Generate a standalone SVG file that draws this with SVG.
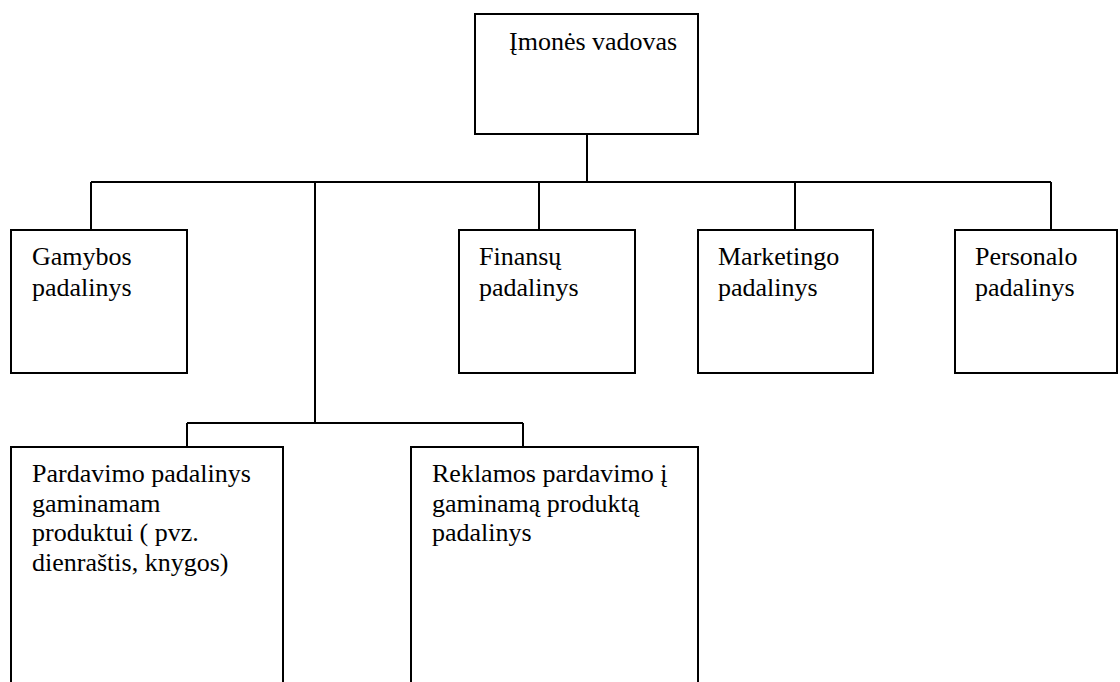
<svg xmlns="http://www.w3.org/2000/svg" width="1120" height="682" viewBox="0 0 1120 682">
  <style>
    .box { fill: #ffffff; stroke: #000000; stroke-width: 2; }
    .link { fill: none; stroke: #000000; stroke-width: 2; }
    .label { font-family: 'Liberation Serif', 'DejaVu Serif', serif; font-size: 26px; fill: #000000; }
  </style>
  <rect width="1120" height="682" fill="#ffffff"/>

  <!-- connectors -->
  <g id="connectors">
    <path class="link" d="M587 134 V182"/>
    <path class="link" d="M91 182 H1051"/>
    <path class="link" d="M91 182 V230"/>
    <path class="link" d="M539 182 V230"/>
    <path class="link" d="M795 182 V230"/>
    <path class="link" d="M1051 182 V230"/>
    <path class="link" d="M315 182 V423"/>
    <path class="link" d="M187 423 H523"/>
    <path class="link" d="M187 423 V447"/>
    <path class="link" d="M523 423 V447"/>
  </g>

  <!-- top manager -->
  <g id="node-vadovas">
    <rect class="box" x="475" y="14" width="223" height="120"/>
    <text class="label" x="509" y="50" font-family="Liberation Serif, serif">Įmonės vadovas</text>
  </g>

  <!-- departments -->
  <g id="node-gamybos">
    <rect class="box" x="11" y="230" width="176" height="143"/>
    <text class="label" x="32" y="265">Gamybos</text>
    <text class="label" x="32" y="295.5">padalinys</text>
  </g>

  <g id="node-finansu">
    <rect class="box" x="459" y="230" width="176" height="143"/>
    <text class="label" x="479" y="265">Finansų</text>
    <text class="label" x="479" y="295.5">padalinys</text>
  </g>

  <g id="node-marketingo">
    <rect class="box" x="698" y="230" width="175" height="143"/>
    <text class="label" x="718" y="265">Marketingo</text>
    <text class="label" x="718" y="295.5">padalinys</text>
  </g>

  <g id="node-personalo">
    <rect class="box" x="955" y="230" width="162" height="143"/>
    <text class="label" x="975" y="265">Personalo</text>
    <text class="label" x="975" y="295.5">padalinys</text>
  </g>

  <!-- sales sub-units -->
  <g id="node-pardavimo">
    <rect class="box" x="11" y="447" width="272" height="260"/>
    <text class="label" x="32" y="482">Pardavimo padalinys</text>
    <text class="label" x="32" y="511.5">gaminamam</text>
    <text class="label" x="32" y="541">produktui ( pvz.</text>
    <text class="label" x="32" y="570.5">dienraštis, knygos)</text>
  </g>

  <g id="node-reklamos">
    <rect class="box" x="411" y="447" width="287" height="260"/>
    <text class="label" x="432" y="482">Reklamos pardavimo į</text>
    <text class="label" x="432" y="511.5">gaminamą produktą</text>
    <text class="label" x="432" y="541">padalinys</text>
  </g>
</svg>
